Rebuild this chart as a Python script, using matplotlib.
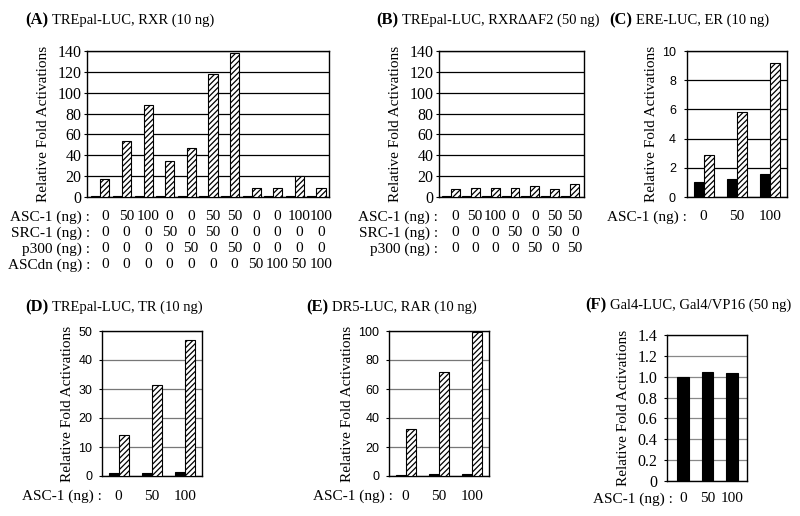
import matplotlib
matplotlib.use("Agg")
import matplotlib.pyplot as plt
import numpy as np

plt.rcParams['font.family'] = ['Liberation Serif', 'DejaVu Serif']
plt.rcParams['hatch.linewidth'] = 0.9

W, H = 800, 516
fig = plt.figure(figsize=(W / 100, H / 100), dpi=100)

ylab = "Relative Fold Activations"

# (A) TREpal-LUC, RXR (10 ng)
a_black = [1, 1, 1, 1, 1, 1, 1, 1, 1, 1, 1]
a_hatch = [17, 54, 88, 35, 47, 118, 138, 9, 9, 20, 9]
a_rows = ["ASC-1 (ng) :", "SRC-1 (ng) :", "p300 (ng) :", "ASCdn (ng) :"]
a_asc1 = ["0", "50", "100", "0", "0", "50", "50", "0", "0", "100", "100"]
a_src1 = ["0", "0", "0", "50", "0", "50", "0", "0", "0", "0", "0"]
a_p300 = ["0", "0", "0", "0", "50", "0", "50", "0", "0", "0", "0"]
a_ascdn = ["0", "0", "0", "0", "0", "0", "0", "50", "100", "50", "100"]

# (B) TREpal-LUC, RXRdAF2 (50 ng)
b_black = [1, 1, 1, 1, 1, 1, 1]
b_hatch = [8, 9, 9, 9, 11, 8, 12]
b_rows = ["ASC-1 (ng) :", "SRC-1 (ng) :", "p300 (ng) :"]
b_asc1 = ["0", "50", "100", "0", "0", "50", "50"]
b_src1 = ["0", "0", "0", "50", "0", "50", "0"]
b_p300 = ["0", "0", "0", "0", "50", "0", "50"]

# (C)-(F)
asc_doses = ["0", "50", "100"]
c_black = [1.05, 1.25, 1.55]
c_hatch = [2.85, 5.8, 9.2]
d_black = [1.0, 1.0, 1.3]
d_hatch = [14, 31.5, 47]
e_black = [1.0, 1.5, 1.5]
e_hatch = [32.5, 71.5, 99]
f_black = [1.0, 1.05, 1.04]


def px_axes(x0, y0, x1, y1):
    return fig.add_axes([x0 / W, 1 - y1 / H, (x1 - x0) / W, (y1 - y0) / H])


def draw(ax, black, hatch, w, xlim, ymax, step, gridcol, sans, fmt="{:g}"):
    x = np.arange(len(black))
    if hatch is None:
        ax.bar(x, black, w, color="black", edgecolor="black", lw=0.8, zorder=3)
    else:
        ax.bar(x - w / 2, black, w, color="black", edgecolor="black", lw=0.8, zorder=3)
        ax.bar(x + w / 2, hatch, w, color="white", edgecolor="black", hatch="//////",
               lw=0.8, zorder=3)
    ax.set_xlim(*xlim)
    ax.set_ylim(0, ymax)
    ticks = np.arange(0, ymax + step / 2, step)
    ax.set_yticks(ticks)
    ax.set_yticklabels([fmt.format(t) if t != 0 else "0" for t in ticks],
                       family="Liberation Sans" if sans else "Liberation Serif",
                       fontsize=9 if sans else 11.5)
    ax.set_xticks([])
    ax.yaxis.grid(True, color=gridcol, lw=0.9)
    ax.set_axisbelow(True)
    ax.tick_params(axis="y", length=2, pad=2)
    for s in ax.spines.values():
        s.set_linewidth(1.0)
    ax.set_ylabel(ylab, fontsize=11)
    return x


titles = []


def title(xl, y, lab, txt):
    t = fig.text(xl / W, 1 - y / H, lab, fontsize=12, fontweight="bold", va="center")
    titles.append((t, y, txt))


def table(ax, xs, rows, cols, y_rows, bottom, height, xr):
    for lab, vals, yr in zip(rows, cols, y_rows):
        fig.text(xr / W, 1 - yr / H, lab, fontsize=11, ha="right", va="center")
        for xi, v in zip(xs, vals):
            ax.text(xi, -(yr - bottom) / height, v, transform=ax.get_xaxis_transform(),
                    fontsize=11, ha="center", va="center")


# A
ax = px_axes(87, 51, 329, 197)
x = draw(ax, a_black, a_hatch, 0.42, (-0.62, 10.58), 140, 20, "black", False)
ax.yaxis.labelpad = 5
table(ax, x + 0.2, a_rows, [a_asc1, a_src1, a_p300, a_ascdn],
      [217, 233, 249, 265], 197, 146, 90)
title(25, 20, "(A)", "TREpal-LUC, RXR (10 ng)")

# B
ax = px_axes(439, 51, 584, 197)
x = draw(ax, b_black, b_hatch, 0.45, (-0.58, 6.68), 140, 20, "black", False)
ax.yaxis.labelpad = 5
table(ax, x + 0.22, b_rows, [b_asc1, b_src1, b_p300], [217, 233, 249], 197, 146, 438)
title(376, 20, "(B)", "TREpal-LUC, RXR\u0394AF2 (50 ng)")

# C
ax = px_axes(687, 51, 787, 197)
x = draw(ax, c_black, c_hatch, 0.3, (-0.5, 2.5), 10, 2, "black", True)
ax.tick_params(axis="y", pad=6)
ax.yaxis.labelpad = 3
table(ax, x, ["ASC-1 (ng) :"], [asc_doses], [217], 197, 146, 687)
title(609, 20, "(C)", "ERE-LUC, ER (10 ng)")

# D
ax = px_axes(102, 331, 202, 476)
x = draw(ax, d_black, d_hatch, 0.3, (-0.5, 2.5), 50, 10, "#777777", True)
ax.tick_params(axis="y", pad=5)
ax.yaxis.labelpad = 3
table(ax, x, ["ASC-1 (ng) :"], [asc_doses], [496], 476, 145, 102)
title(25, 307, "(D)", "TREpal-LUC, TR (10 ng)")

# E
ax = px_axes(389, 331, 489, 476)
x = draw(ax, e_black, e_hatch, 0.3, (-0.5, 2.5), 100, 20, "#777777", True)
ax.tick_params(axis="y", pad=5)
ax.yaxis.labelpad = 3
table(ax, x, ["ASC-1 (ng) :"], [asc_doses], [496], 476, 145, 393)
title(306, 307, "(E)", "DR5-LUC, RAR (10 ng)")

# F
ax = px_axes(667, 335, 747, 481)
x = draw(ax, f_black, None, 0.47, (-0.65, 2.6), 1.4, 0.2, "#888888", False, fmt="{:.1f}")
ax.tick_params(axis="y", pad=5)
ax.yaxis.labelpad = 5
table(ax, x, ["ASC-1 (ng) :"], [asc_doses], [499], 481, 146, 673)
title(585, 305, "(F)", "Gal4-LUC, Gal4/VP16 (50 ng)")

# put the plain part of each title right after its bold letter
fig.canvas.draw()
r = fig.canvas.get_renderer()
for t, y, txt in titles:
    bb = t.get_window_extent(r)
    fig.text((bb.x1 + 4) / W, 1 - y / H, txt, fontsize=10.5, va="center")

fig.savefig("out.png", dpi=100)
